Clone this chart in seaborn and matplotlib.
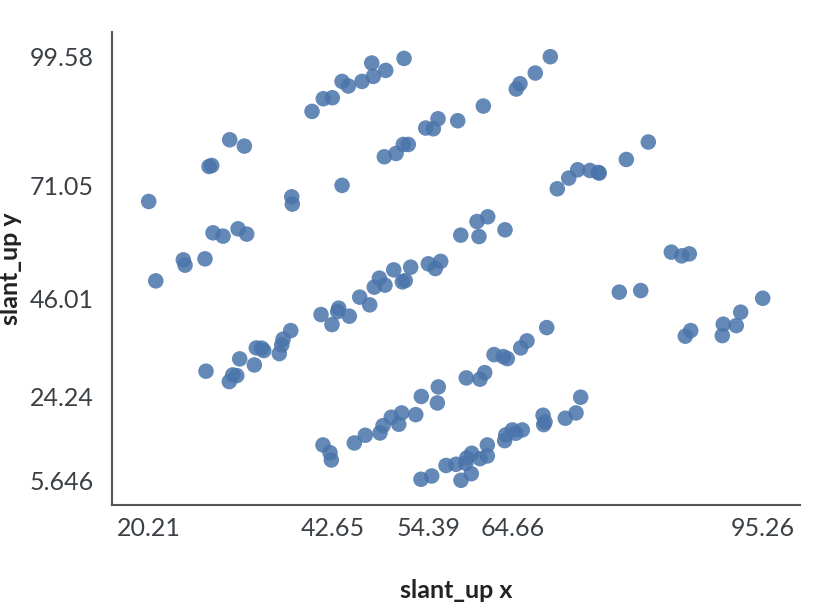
import matplotlib
matplotlib.use("Agg")
import matplotlib.pyplot as plt
import seaborn as sns
import pandas as pd

x_vals = [
    # band A
    40.17, 41.55, 42.65, 43.84, 44.61, 46.28, 47.47, 47.66, 49.18, 51.42,
    # band B
    43.84, 49.01, 50.44, 51.33, 51.94, 54.07, 55.00, 55.57, 57.98, 61.11, 65.14, 65.59, 67.46, 69.30,
    # left cluster
    20.21, 21.07, 24.44, 24.65, 27.09, 27.58, 27.91, 28.07, 29.29, 30.11, 31.13, 31.90, 32.19, 37.69, 37.76,
    # band C
    27.21, 30.06, 30.48, 30.97, 31.33, 33.12, 33.36, 34.02, 34.27, 36.17, 36.47, 36.63, 37.57,
    41.27, 42.61, 43.31, 43.43, 44.73, 46.00, 47.22, 47.78, 48.40, 49.09, 50.16, 51.21, 51.57,
    52.23, 54.39, 55.24, 55.90, 58.35, 60.34, 60.58, 61.65, 63.76,
    # band D
    70.15, 71.55, 72.65, 74.15, 75.16, 75.28, 78.59, 81.28,
    # right cluster
    77.73, 80.35, 84.09, 85.36, 86.29, 85.80, 86.46, 90.32, 90.44, 92.03, 92.57, 95.26,
    # band E
    41.51, 42.37, 42.53, 45.34, 46.68, 48.48, 48.85, 49.86, 50.77, 51.13, 52.85, 53.53,
    55.61, 55.49, 59.03, 60.70, 61.28, 62.42, 63.55, 64.04, 65.68, 66.45, 68.86,
    # band F
    53.49, 54.80, 56.55, 57.77, 58.38, 58.96, 59.08, 59.64, 59.69, 60.70, 61.60, 61.60,
    63.72, 63.85, 64.66, 65.07, 65.87, 68.41, 68.65, 68.49, 71.13, 72.44, 73.01,
]

y_vals = [
    # band A
    87.45, 90.26, 90.48, 94.10, 93.08, 94.10, 98.18, 95.21, 96.54, 99.20,
    # band B
    71.05, 77.39, 78.12, 80.12, 80.12, 83.76, 83.60, 85.82, 85.38, 88.64, 92.41, 93.59, 95.96, 99.58,
    # left cluster
    67.47, 49.87, 54.53, 53.36, 54.75, 75.24, 75.46, 60.53, 59.79, 81.16, 61.41, 79.76, 60.24, 68.51, 66.89,
    # band C
    29.84, 27.53, 29.01, 28.86, 32.57, 31.23, 35.00, 34.94, 34.41, 33.74, 35.67, 36.94, 38.85,
    42.40, 40.18, 43.06, 43.82, 42.04, 46.26, 44.55, 48.48, 50.47, 48.92, 52.31, 49.65, 49.94,
    52.91, 53.65, 52.60, 54.20, 60.01, 63.03, 59.70, 64.08, 61.19,
    # band D
    70.29, 72.66, 74.51, 74.35, 73.91, 73.77, 76.79, 80.66,
    # right cluster
    47.37, 47.72, 56.24, 55.42, 55.86, 37.60, 38.85, 37.73, 40.26, 39.95, 42.93, 46.01,
    # band E
    13.48, 11.77, 10.15, 13.92, 15.63, 16.14, 17.76, 19.63, 18.07, 20.58, 20.20, 24.24,
    26.35, 22.80, 28.35, 28.06, 29.52, 33.52, 33.07, 32.63, 35.00, 36.56, 39.51,
    # band F
    5.87, 6.60, 8.93, 9.20, 5.646, 9.42, 10.59, 7.11, 11.64, 10.44, 11.04, 13.48,
    14.43, 15.70, 16.81, 16.08, 16.81, 20.07, 18.58, 17.99, 19.41, 20.58, 24.07,
]

x_ticks = [20.21, 42.65, 54.39, 64.66, 95.26]
x_tick_labels = ["20.21", "42.65", "54.39", "64.66", "95.26"]
y_ticks = [5.646, 24.24, 46.01, 71.05, 99.58]
y_tick_labels = ["5.646", "24.24", "46.01", "71.05", "99.58"]

df = pd.DataFrame({"slant_up x": x_vals, "slant_up y": y_vals})

sns.set_theme(style="white")
plt.rcParams["font.family"] = ["Lato", "DejaVu Sans"]

fig = plt.figure(figsize=(8.32, 6.10), dpi=100)
ax = fig.add_axes([112 / 832, 1 - 505 / 610, (800 - 112) / 832, (505 - 32) / 610])

sns.scatterplot(data=df, x="slant_up x", y="slant_up y", ax=ax,
                color="#4a74ab", alpha=0.85, s=125, edgecolor="none", linewidth=0)

ax.set_xlim(15.72, 99.82)
ax.set_ylim(0.165, 105.06)
ax.set_xticks(x_ticks)
ax.set_xticklabels(x_tick_labels)
ax.set_yticks(y_ticks)
ax.set_yticklabels(y_tick_labels)

ax.tick_params(axis="both", length=0, labelsize=18, labelcolor="#3b4045")
ax.tick_params(axis="x", pad=9)
ax.tick_params(axis="y", pad=13)

for side in ["top", "right"]:
    ax.spines[side].set_visible(False)
for side in ["left", "bottom"]:
    ax.spines[side].set_color("#555555")
    ax.spines[side].set_linewidth(1.5)

ax.set_xlabel("slant_up x", fontsize=18, fontweight="bold", color="#222222")
ax.set_ylabel("slant_up y", fontsize=18, fontweight="bold", color="#222222")
ax.xaxis.set_label_coords(0.5, -0.157)
ax.yaxis.set_label_coords(-0.131, 0.5)

fig.savefig("out.png", dpi=100)
